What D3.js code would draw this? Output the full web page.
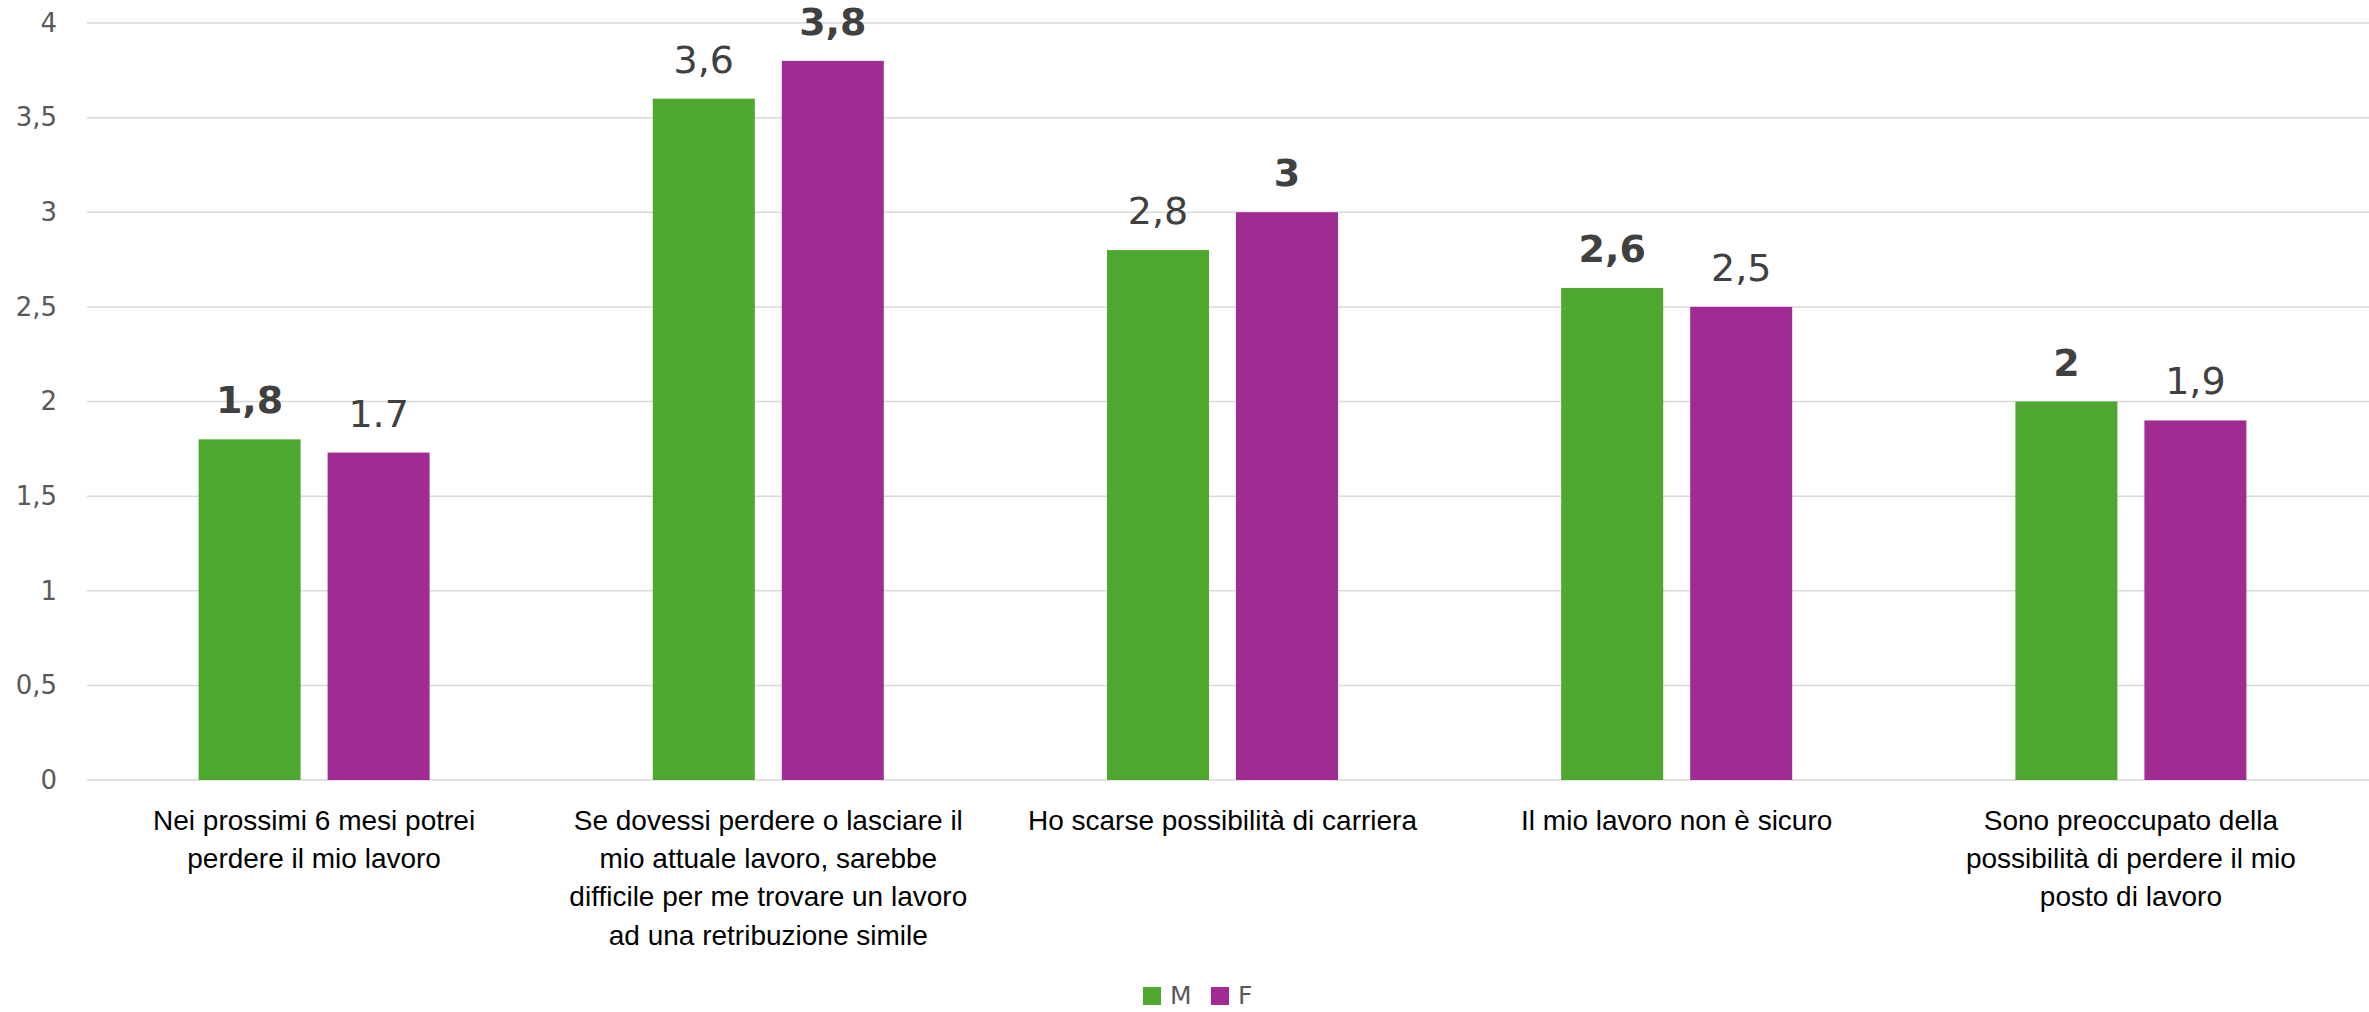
<!DOCTYPE html>
<html><head><meta charset="utf-8">
<script src="https://cdn.jsdelivr.net/npm/d3@7"></script>
<style>html,body{margin:0;padding:0;background:#fff;}svg{display:block;}</style>
</head><body>
<script>
const categories = [
  ["Nei prossimi 6 mesi potrei", "perdere il mio lavoro"],
  ["Se dovessi perdere o lasciare il", "mio attuale lavoro, sarebbe", "difficile per me trovare un lavoro", "ad una retribuzione simile"],
  ["Ho scarse possibilità di carriera"],
  ["Il mio lavoro non è sicuro"],
  ["Sono preoccupato della", "possibilità di perdere il mio", "posto di lavoro"]
];
const seriesNames = ["M", "F"];
const seriesColors = ["#4EA72E", "#A02B93"];
const valuesM = [1.8, 3.6, 2.8, 2.6, 2.0];
const valuesF = [1.73, 3.8, 3.0, 2.5, 1.9];
const labelsM = ["1,8", "3,6", "2,8", "2,6", "2"];
const labelsF = ["1.7", "3,8", "3", "2,5", "1,9"];
const boldM = [true, false, false, true, true];
const boldF = [false, true, true, false, false];
const yTicks = [0, 0.5, 1, 1.5, 2, 2.5, 3, 3.5, 4];
const yTickLabels = ["0", "0,5", "1", "1,5", "2", "2,5", "3", "3,5", "4"];

const W = 2369, H = 1012;
const numFont = "DejaVu Sans, Verdana, sans-serif";
const catFont = "Liberation Sans, Arial, sans-serif";
const svg = d3.select("body").append("svg").attr("width", W).attr("height", H);

const y = d3.scaleLinear().domain([0, 4]).range([780, 23]);
const x0 = d3.scaleBand().domain(d3.range(categories.length)).range([87, 2358])
  .paddingInner(0.4914).paddingOuter(0.2457);
const x1 = d3.scaleBand().domain(seriesNames).range([0, x0.bandwidth()]).paddingInner(0.2093);

// gridlines
svg.append("g").selectAll("line").data(yTicks).join("line")
  .attr("x1", 87).attr("x2", W).attr("y1", d => y(d)).attr("y2", d => y(d))
  .attr("stroke", "#d9d9d9").attr("stroke-width", 1.5);

// y axis labels
const yAxis = d3.axisLeft(y).tickValues(yTicks).tickFormat((d, i) => yTickLabels[i]).tickSize(0).tickPadding(0);
const ya = svg.append("g").attr("transform", "translate(57,0)").call(yAxis);
ya.select(".domain").remove();
ya.selectAll("text").attr("fill", "#595959").attr("font-family", numFont).attr("font-size", 26);

const data = categories.map((c, i) => ({
  i,
  vals: [
    {s: "M", v: valuesM[i], l: labelsM[i], b: boldM[i], c: seriesColors[0]},
    {s: "F", v: valuesF[i], l: labelsF[i], b: boldF[i], c: seriesColors[1]}
  ]
}));

const g = svg.append("g").selectAll("g").data(data).join("g")
  .attr("transform", d => `translate(${x0(d.i)},0)`);
g.selectAll("rect").data(d => d.vals).join("rect")
  .attr("x", d => x1(d.s)).attr("width", x1.bandwidth())
  .attr("y", d => y(d.v)).attr("height", d => y(0) - y(d.v))
  .attr("fill", d => d.c);
g.selectAll("text.lbl").data(d => d.vals).join("text").attr("class", "lbl")
  .attr("x", d => x1(d.s) + x1.bandwidth() / 2).attr("y", d => y(d.v) - 26)
  .attr("text-anchor", "middle").attr("fill", "#404040")
  .attr("font-family", numFont).attr("font-size", 38)
  .attr("font-weight", d => d.b ? "bold" : "normal")
  .text(d => d.l);

// category labels
const cat = svg.append("g").selectAll("text").data(data).join("text")
  .attr("x", d => x0(d.i) + x0.bandwidth() / 2).attr("y", 830)
  .attr("text-anchor", "middle").attr("fill", "#000")
  .attr("font-family", catFont).attr("font-size", 28);
cat.selectAll("tspan").data(d => categories[d.i].map(t => ({t, x: x0(d.i) + x0.bandwidth() / 2}))).join("tspan")
  .attr("x", d => d.x).attr("dy", (d, k) => k === 0 ? 0 : 38.2).text(d => d.t);

// legend
const legendX = [1143, 1211];
const lg = svg.append("g").selectAll("g").data(seriesNames).join("g")
  .attr("transform", (d, i) => `translate(${legendX[i]},987)`);
lg.append("rect").attr("width", 18).attr("height", 18).attr("fill", (d, i) => seriesColors[i]);
lg.append("text").attr("x", 27).attr("y", 17).attr("fill", "#595959")
  .attr("font-family", numFont).attr("font-size", 25).text(d => d);
</script>
</body></html>
